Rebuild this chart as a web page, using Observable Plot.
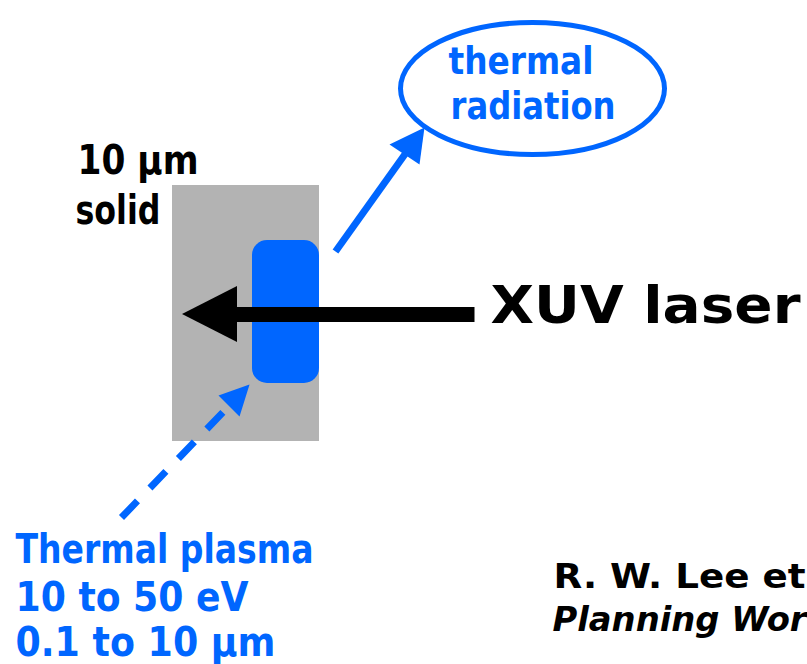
<!DOCTYPE html>
<html><head><meta charset="utf-8">
<script src="https://cdn.jsdelivr.net/npm/d3@7"></script>
<script src="https://cdn.jsdelivr.net/npm/@observablehq/plot@0.6"></script>
<style>html,body{margin:0;padding:0;background:#fff;overflow:hidden}</style>
</head><body><div id="chart"></div>
<script>
// ---------- text content (as visible in the reference) ----------
const solidLines = ["10 μm", "solid"];
const radiationLines = ["thermal", "radiation"];
const laserLines = ["XUV laser"];
const plasmaLines = ["Thermal plasma", "10 to 50 eV", "0.1 to 10 μm"];
const creditLines = ["R. W. Lee et", "Planning Wor"];

// ---------- text layout (start x, baseline y, fitted width) ----------
const solidX = [77, 75], solidY = [173, 223], solidW = [121, 85];
const radiationX = [448, 450], radiationY = [73, 118], radiationW = [145, 165];
const laserX = [490], laserY = [322], laserW = [310];
const plasmaX = [15, 15, 15], plasmaY = [562, 610, 655], plasmaW = [298, 233, 260];
const creditX = [553, 552], creditY = [587, 630], creditW = [252, 254];

// ---------- diagram geometry ----------
const solidBox = [{x1: 172, x2: 319, y1: 185, y2: 441}];
const plasmaBox = [{x1: 252, x2: 319, y1: 240, y2: 383}];
const radiationOval = [{x1: 400.5, x2: 664.5, y1: 22.5, y2: 154.5}];
const laserShaft = [{x1: 474, y1: 314, x2: 236, y2: 314}];
const laserHead = [{x: 182, y1: 314, y2: 314}, {x: 237, y1: 286, y2: 342}];
const radiationShaft = [{x1: 335, y1: 251, x2: 405, y2: 153}];
const plasmaShaft = [{x1: 121, y1: 517, x2: 229, y2: 405}];
const blueHeads = [
  {id: "rad", x: 424, y: 127}, {id: "rad", x: 389, y: 144}, {id: "rad", x: 419, y: 164},
  {id: "pla", x: 249, y: 384}, {id: "pla", x: 218, y: 395}, {id: "pla", x: 239, y: 416}
];

const BLUE = "#0066ff";
const FONT = "'Comic Sans MS', 'DejaVu Sans', sans-serif";

function label(lines, xs, ys, opts) {
  return Plot.text(lines, {
    x: (d, i) => xs[i], y: (d, i) => ys[i], text: d => d,
    textAnchor: "start", lineAnchor: "bottom", fontFamily: FONT, fontWeight: "bold",
    ...opts
  });
}

const plot = Plot.plot({
  width: 807, height: 664,
  margin: 0,
  x: {domain: [0, 807], range: [0, 807], axis: null},
  y: {domain: [0, 664], range: [0, 664], axis: null},
  style: {background: "white", overflow: "hidden"},
  marks: [
    Plot.rect(solidBox, {x1: "x1", x2: "x2", y1: "y1", y2: "y2", fill: "#b3b3b3"}),
    Plot.rect(plasmaBox, {x1: "x1", x2: "x2", y1: "y1", y2: "y2", fill: BLUE, rx: 15, ry: 15}),
    Plot.link(laserShaft, {x1: "x1", y1: "y1", x2: "x2", y2: "y2", stroke: "black", strokeWidth: 15, strokeLinecap: "butt"}),
    Plot.area(laserHead, {x1: "x", y1: "y1", y2: "y2", fill: "black"}),
    Plot.link(radiationShaft, {x1: "x1", y1: "y1", x2: "x2", y2: "y2", stroke: BLUE, strokeWidth: 7, strokeLinecap: "butt"}),
    Plot.link(plasmaShaft, {x1: "x1", y1: "y1", x2: "x2", y2: "y2", stroke: BLUE, strokeWidth: 7, strokeLinecap: "butt", strokeDasharray: "23,18"}),
    Plot.line(blueHeads, {x: "x", y: "y", z: "id", fill: BLUE, stroke: "none", curve: "linear-closed"}),
    Plot.rect(radiationOval, {x1: "x1", x2: "x2", y1: "y1", y2: "y2", fill: "none", stroke: BLUE, strokeWidth: 5, rx: 132, ry: 66}),
    label(radiationLines, radiationX, radiationY, {fill: BLUE, fontSize: 37}),
    label(solidLines, solidX, solidY, {fill: "black", fontSize: 41}),
    label(laserLines, laserX, laserY, {fill: "black", fontSize: 51}),
    label(plasmaLines, plasmaX, plasmaY, {fill: BLUE, fontSize: 40}),
    label(creditLines, creditX, creditY, {fill: "black", fontSize: 34, fontStyle: "italic"})
  ]
});

// fit each line to the width it takes in the reference
const fitted = new Map();
[[solidLines, solidW], [radiationLines, radiationW], [laserLines, laserW], [plasmaLines, plasmaW], [creditLines, creditW]]
  .forEach(([lines, ws]) => lines.forEach((t, i) => fitted.set(t, ws[i])));
plot.querySelectorAll("text").forEach(el => {
  const w = fitted.get(el.textContent);
  if (w) { el.setAttribute("textLength", w); el.setAttribute("lengthAdjust", "spacingAndGlyphs"); }
  if (el.textContent === creditLines[0]) el.setAttribute("font-style", "normal");
});
document.getElementById("chart").appendChild(plot);
</script>
</body></html>
